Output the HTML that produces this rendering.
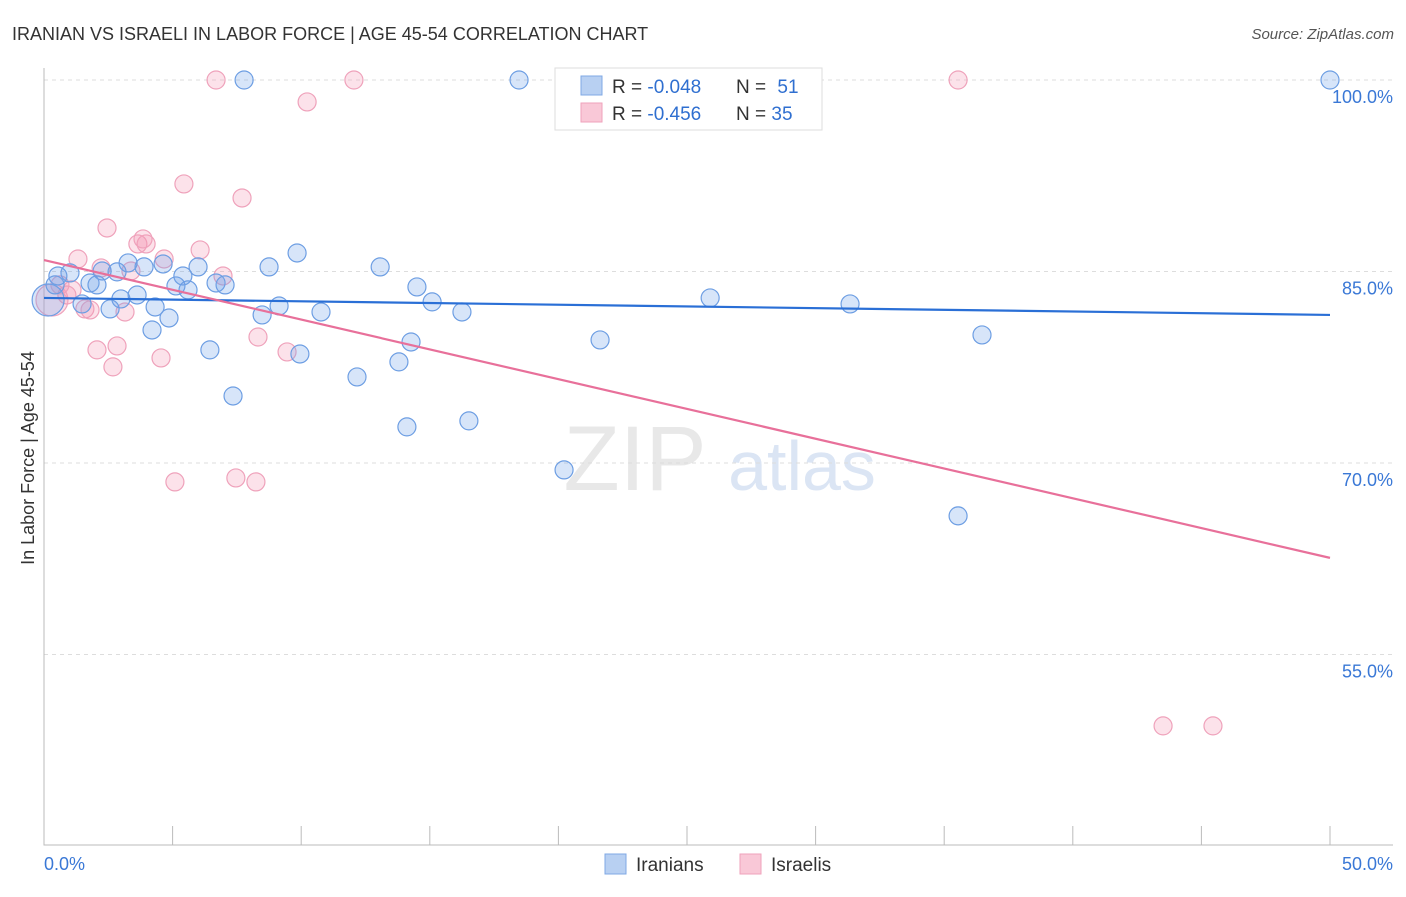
<!DOCTYPE html>
<html><head><meta charset="utf-8"><style>
body{margin:0;background:#fff;font-family:"Liberation Sans",sans-serif;}
svg text{font-family:"Liberation Sans",sans-serif;}
</style></head><body>
<svg id="chart" width="1406" height="892">
<text x="12" y="40" font-size="18" fill="#333">IRANIAN VS ISRAELI IN LABOR FORCE | AGE 45-54 CORRELATION CHART</text>
<text x="1394" y="39" font-size="15" fill="#555" font-style="italic" text-anchor="end">Source: ZipAtlas.com</text>
<text x="34" y="458" font-size="18" fill="#333" text-anchor="middle" transform="rotate(-90 34 458)">In Labor Force | Age 45-54</text>
<g><text x="635" y="490" font-size="92" fill="#e8e8e8" font-family="Liberation Serif" text-anchor="middle">ZIP</text><text x="802" y="490" font-size="70" fill="#dbe5f4" text-anchor="middle">atlas</text></g>
<g id="grid"></g><g id="marks"></g>
<g>
<rect x="555" y="68" width="267" height="62" fill="#fff" stroke="#ddd"/>
<rect x="581" y="76" width="21" height="19" fill="#b8d0f2" stroke="#7fa8e4"/>
<rect x="581" y="103" width="21" height="19" fill="#f9c8d7" stroke="#efa2bb"/>
<text x="612" y="93" font-size="19" fill="#333">R = <tspan fill="#2f6fd0">-0.048</tspan></text>
<text x="736" y="93" font-size="19" fill="#333">N = <tspan fill="#2f6fd0" dx="6">51</tspan></text>
<text x="612" y="120" font-size="19" fill="#333">R = <tspan fill="#2f6fd0">-0.456</tspan></text>
<text x="736" y="120" font-size="19" fill="#333">N = <tspan fill="#2f6fd0">35</tspan></text>
</g>
<g>
<rect x="605" y="854" width="21" height="20" fill="#b8d0f2" stroke="#7fa8e4"/>
<text x="636" y="871" font-size="19" fill="#333">Iranians</text>
<rect x="740" y="854" width="21" height="20" fill="#f9c8d7" stroke="#efa2bb"/>
<text x="771" y="871" font-size="19" fill="#333">Israelis</text>
</g>
</svg>
<script>
const yTicks=[100,85,70,55];
const yTickLabels=["100.0%","85.0%","70.0%","55.0%"];
const xTicks=[0,5,10,15,20,25,30,35,40,45,50];
const xEndLabels=["0.0%","50.0%"];
const iranX=[7.78,18.47,50,9.84,13.07,8.75,5.99,4.63,3.89,3.27,2.84,2.26,1.01,0.54,1.79,2.06,5.40,5.13,5.60,6.69,7.04,14.50,15.09,16.25,10.77,9.14,8.48,3.62,2.99,2.57,1.48,4.32,4.86,4.20,6.45,9.95,14.27,13.80,12.17,7.35,14.11,16.52,20.22,21.62,25.90,31.34,36.47,35.54,0.16,0.43];
const iranY=[100,100,100,86.45,85.36,85.36,85.36,85.59,85.36,85.67,84.97,85.04,84.89,84.65,84.10,83.95,84.65,83.87,83.56,84.10,83.95,83.79,82.62,81.83,81.83,82.30,81.60,83.16,82.85,82.07,82.46,82.22,81.36,80.42,78.86,78.54,79.48,77.92,76.74,75.25,72.83,73.30,69.46,79.64,82.93,82.46,80.03,65.86,82.77,83.95];
const israelX=[6.69,12.05,35.54,10.23,5.44,7.70,2.45,3.65,3.97,3.85,6.07,4.67,1.32,2.22,3.38,6.96,1.09,1.59,1.79,3.15,0.89,0.31,2.06,2.84,2.68,4.55,8.32,9.45,5.09,7.46,8.24,43.51,45.45,0.62];
const israelY=[100,100,100,98.28,91.86,90.76,88.41,87.16,87.16,87.55,86.69,85.98,85.98,85.28,85.04,84.65,83.56,82.07,81.99,81.83,83.16,82.77,78.86,79.17,77.53,78.23,79.87,78.70,68.52,68.83,68.52,49.41,49.41,83.95];
const iranTrend=[82.93,81.60];
const israelTrend=[85.90,62.57];
const NS="http://www.w3.org/2000/svg";
const xs=v=>44+v/50*1286;
const ys=v=>80+(100-v)*12.767;
function mk(tag,attrs,parent){const e=document.createElementNS(NS,tag);for(const k in attrs)e.setAttribute(k,attrs[k]);parent.appendChild(e);return e;}
const grid=document.getElementById('grid'),marks=document.getElementById('marks');
yTicks.forEach((t,i)=>{
  const l=mk('line',{x1:44,x2:1393,y1:ys(t),y2:ys(t),stroke:'#ddd','stroke-dasharray':'4,4'},grid);
  
  
  const tx=mk('text',{x:1393,y:ys(t)+23,'font-size':18,fill:'#3a78d6','text-anchor':'end'},grid);tx.textContent=yTickLabels[i];
  
  
});
const ax=mk('path',{d:'M44 68V845H1393',stroke:'#bbb',fill:'none'},grid);


xTicks.forEach(t=>{
  const l=mk('line',{x1:xs(t),x2:xs(t),y1:826,y2:845,stroke:'#bbb'},grid);
  
  
});
[[0,'start',44],[50,'end',1393]].forEach((d,i)=>{
  const tx=mk('text',{x:d[2],y:870,'font-size':18,fill:'#3a78d6','text-anchor':d[1]},grid);tx.textContent=xEndLabels[i];
  
  
});
function dots(X,Y,fill,stroke,name,bigIdx){X.forEach((x,i)=>{
  const r=(i===bigIdx)?16:9;
  const c=mk('circle',{cx:xs(x),cy:ys(Y[i]),r:r,fill:fill,stroke:stroke,'stroke-width':1.2},marks);
  
  
});}
dots(israelX,israelY,'rgba(244,150,180,0.28)','#efa2bb','israeli-point',21);
dots(iranX,iranY,'rgba(110,160,232,0.28)','#6d9ee3','iranian-point',48);
const t1=mk('line',{x1:xs(0),x2:xs(50),y1:ys(iranTrend[0]),y2:ys(iranTrend[1]),stroke:'#2a6fd6','stroke-width':2.2},marks);


const t2=mk('line',{x1:xs(0),x2:xs(50),y1:ys(israelTrend[0]),y2:ys(israelTrend[1]),stroke:'#e8709a','stroke-width':2.2},marks);


</script>
</body></html>
